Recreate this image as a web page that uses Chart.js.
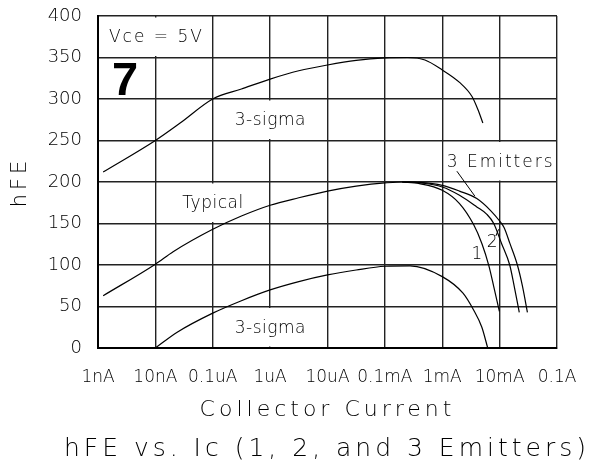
<!DOCTYPE html>
<html>
<head>
<meta charset="utf-8">
<script src="https://cdn.jsdelivr.net/npm/chart.js@4.4.0/dist/chart.umd.min.js"></script>
<style>
  html, body { margin: 0; padding: 0; background: #fff; }
  canvas { display: block; }
</style>
</head>
<body>
<canvas id="hfe" width="590" height="462"></canvas>
<script>
// Axis ticks
const currentTicks = [1e-9, 1e-8, 1e-7, 1e-6, 1e-5, 1e-4, 1e-3, 1e-2, 1e-1];
const currentLabels = ['1nA', '10nA', '0.1uA', '1uA', '10uA', '0.1mA', '1mA', '10mA', '0.1A'];

// Upper 3-sigma limit
const upperSigmaIc  = [1.23e-9, 1e-8, 2.7e-8, 1e-7, 3.16e-7, 1e-6, 3.16e-6, 1e-5, 3.16e-5, 1e-4, 2.5e-4, 5e-4, 1e-3, 2e-3, 3.3e-3, 4.2e-3, 5.1e-3];
const upperSigmaHfe = [212, 250, 271, 300, 312, 324, 334, 341, 346.5, 349.5, 350, 347, 335, 320, 303, 287, 271];

// Typical curve, common to all emitter counts up to about 0.2mA
const typicalIc  = [1.23e-9, 1e-8, 2.04e-8, 1e-7, 3.16e-7, 1e-6, 3.16e-6, 1e-5, 3.16e-5, 1e-4, 2e-4];
const typicalHfe = [63, 101, 116, 143, 159, 172, 181, 189, 195, 199, 200];

// High-current roll-off for 1, 2 and 3 emitters
const emitter1Ic  = [2e-4, 4e-4, 1e-3, 2e-3, 3.5e-3, 4.9e-3, 6.5e-3, 7.9e-3, 9.9e-3];
const emitter1Hfe = [200, 198, 190, 174, 149, 126, 99, 74, 44];
const emitter2Ic  = [2e-4, 4e-4, 1e-3, 2e-3, 4e-3, 6e-3, 7.9e-3, 1.08e-2, 1.5e-2, 1.8e-2, 2.2e-2];
const emitter2Hfe = [200, 199, 194, 184, 170, 161, 150, 126, 100, 74, 43];
const emitter3Ic  = [2e-4, 4e-4, 1e-3, 2e-3, 4e-3, 7.1e-3, 1e-2, 1.2e-2, 1.51e-2, 2.04e-2, 2.51e-2, 3.05e-2];
const emitter3Hfe = [200, 199.5, 196, 189, 180, 165, 153, 145, 126, 100, 74, 43];

// Lower 3-sigma limit
const lowerSigmaIc  = [1e-8, 2.4e-8, 1e-7, 3.16e-7, 1e-6, 3.16e-6, 1e-5, 3.16e-5, 1e-4, 2.75e-4, 1e-3, 2.3e-3, 3.5e-3, 4.9e-3, 6.2e-3];
const lowerSigmaHfe = [0, 19, 42, 57, 70, 80, 88, 94, 98.5, 99, 86, 66, 46, 25, 0];

const zip = (xs, ys) => xs.map((x, i) => ({ x: x, y: ys[i] }));

const curve = (label, xs, ys) => ({
  label: label,
  data: zip(xs, ys),
  borderColor: '#000',
  borderWidth: 1.2,
  pointRadius: 0,
  fill: false,
  cubicInterpolationMode: 'monotone'
});

const TEXT_FONT = '"DejaVu Sans", "Liberation Sans", sans-serif';
const TEXT_WEIGHT = 300;

// Labels placed inside the grid, in data coordinates
const notes = [
  { text: 'Vce = 5V',   x: [1e-9, 1e-7], y: [350, 400], clear: true, spacing: 2 },
  { text: '3-sigma',    x: [1e-7, 1e-5], y: [250, 300], clear: true, spacing: 0.5 },
  { text: 'Typical',    x: [1e-8, 1e-6], y: [150, 200], clear: true, spacing: 0.5 },
  { text: '3-sigma',    x: [1e-7, 1e-5], y: [0, 50],    clear: true, spacing: 0.5 },
  { text: '3 Emitters', x: [1e-3, 1e-1], y: [200, 250], clear: true, spacing: 2 },
  { text: '1', at: [4e-3, 114], spacing: 0 },
  { text: '2', at: [7.4e-3, 128], spacing: 0 }
];
const leaders = [
  { from: [1.8e-3, 213], to: [3.7e-3, 183] },
  { from: [8.6e-3, 135], to: [9.6e-3, 143] }
];

const gridNotes = {
  id: 'gridNotes',
  beforeUpdate(chart) { chart.ctx.letterSpacing = '4px'; },
  beforeDraw(chart) { chart.ctx.letterSpacing = '4px'; },
  beforeDatasetsDraw(chart) {
    const ctx = chart.ctx, xs = chart.scales.x, ys = chart.scales.y;
    ctx.save();
    ctx.letterSpacing = '0px';
    ctx.fillStyle = '#fff';
    notes.filter(n => n.clear).forEach(n => {
      const l = xs.getPixelForValue(n.x[0]) + 1.5, r = xs.getPixelForValue(n.x[1]) - 1.5;
      const t = ys.getPixelForValue(n.y[1]) + 1.5, b = ys.getPixelForValue(n.y[0]) - 1.5;
      ctx.fillRect(l, t, r - l, b - t);
    });
    ctx.restore();
    ctx.letterSpacing = '0px';
  },
  afterDatasetsDraw(chart) {
    const ctx = chart.ctx, xs = chart.scales.x, ys = chart.scales.y;
    ctx.save();
    ctx.fillStyle = '#000';
    ctx.textAlign = 'center';
    ctx.textBaseline = 'middle';
    ctx.font = TEXT_WEIGHT + ' 17px ' + TEXT_FONT;
    notes.forEach(n => {
      ctx.letterSpacing = n.spacing + 'px';
      let px, py;
      if (n.at) {
        px = xs.getPixelForValue(n.at[0]); py = ys.getPixelForValue(n.at[1]);
      } else {
        px = (xs.getPixelForValue(n.x[0]) + xs.getPixelForValue(n.x[1])) / 2;
        py = (ys.getPixelForValue(n.y[0]) + ys.getPixelForValue(n.y[1])) / 2;
      }
      ctx.fillText(n.text, px + n.spacing / 2, py + 1);
    });
    // Figure number
    ctx.letterSpacing = '0px';
    ctx.font = 'bold 47px "Liberation Sans", Arial, sans-serif';
    ctx.fillText('7', xs.getPixelForValue(2.95e-9), ys.getPixelForValue(323) + 2);
    // Leader lines
    ctx.strokeStyle = '#000';
    ctx.lineWidth = 1;
    leaders.forEach(ld => {
      ctx.beginPath();
      ctx.moveTo(xs.getPixelForValue(ld.from[0]), ys.getPixelForValue(ld.from[1]));
      ctx.lineTo(xs.getPixelForValue(ld.to[0]), ys.getPixelForValue(ld.to[1]));
      ctx.stroke();
    });
    ctx.restore();
    ctx.letterSpacing = '0px';
  }
};

new Chart(document.getElementById('hfe'), {
  type: 'line',
  data: {
    datasets: [
      curve('3-sigma (upper)', upperSigmaIc, upperSigmaHfe),
      curve('Typical', typicalIc, typicalHfe),
      curve('1 Emitter', emitter1Ic, emitter1Hfe),
      curve('2 Emitters', emitter2Ic, emitter2Hfe),
      curve('3 Emitters', emitter3Ic, emitter3Hfe),
      curve('3-sigma (lower)', lowerSigmaIc, lowerSigmaHfe)
    ]
  },
  options: {
    responsive: false,
    animation: false,
    devicePixelRatio: 1,
    layout: { padding: 0 },
    plugins: {
      legend: { display: false },
      tooltip: { enabled: false },
      title: {
        display: true,
        position: 'bottom',
        align: 'end',
        text: 'hFE vs. Ic (1, 2, and 3 Emitters)',
        color: '#000',
        font: { family: TEXT_FONT, size: 25, weight: TEXT_WEIGHT, lineHeight: 1.0 },
        padding: { top: 0, bottom: 0 }
      }
    },
    scales: {
      x: {
        type: 'logarithmic',
        min: 1e-9,
        max: 1e-1,
        afterBuildTicks(scale) { scale.ticks = currentTicks.map(v => ({ value: v })); },
        afterFit(scale) {
          scale.height = 89;
          scale.paddingLeft = 0;
          scale.paddingRight = 33;
        },
        grid: { color: '#222', lineWidth: 1.4, drawTicks: false },
        border: { color: '#000', width: 2 },
        ticks: {
          z: 1,
          autoSkip: false,
          maxRotation: 0,
          padding: 19,
          color: '#000',
          font: { family: TEXT_FONT, size: 17, weight: TEXT_WEIGHT },
          callback: (v) => currentLabels[currentTicks.indexOf(v)]
        },
        title: {
          display: true,
          text: 'Collector Current',
          color: '#000',
          font: { family: TEXT_FONT, size: 22, weight: TEXT_WEIGHT, lineHeight: 1.2 },
          padding: { top: 0, bottom: 14 }
        }
      },
      y: {
        min: 0,
        max: 400,
        afterFit(scale) {
          scale.width = 98;
          scale.paddingTop = 16;
          scale.paddingBottom = 0;
        },
        grid: { color: '#222', lineWidth: 1.4, drawTicks: false },
        border: { color: '#000', width: 2 },
        ticks: {
          z: 1,
          stepSize: 50,
          padding: 16,
          color: '#000',
          font: { family: TEXT_FONT, size: 18, weight: TEXT_WEIGHT }
        },
        title: {
          display: true,
          text: 'hFE',
          color: '#000',
          font: { family: TEXT_FONT, size: 21, weight: TEXT_WEIGHT, lineHeight: 1.2 },
          padding: { top: 8, bottom: 0 }
        }
      }
    }
  },
  plugins: [gridNotes]
});
</script>
</body>
</html>
